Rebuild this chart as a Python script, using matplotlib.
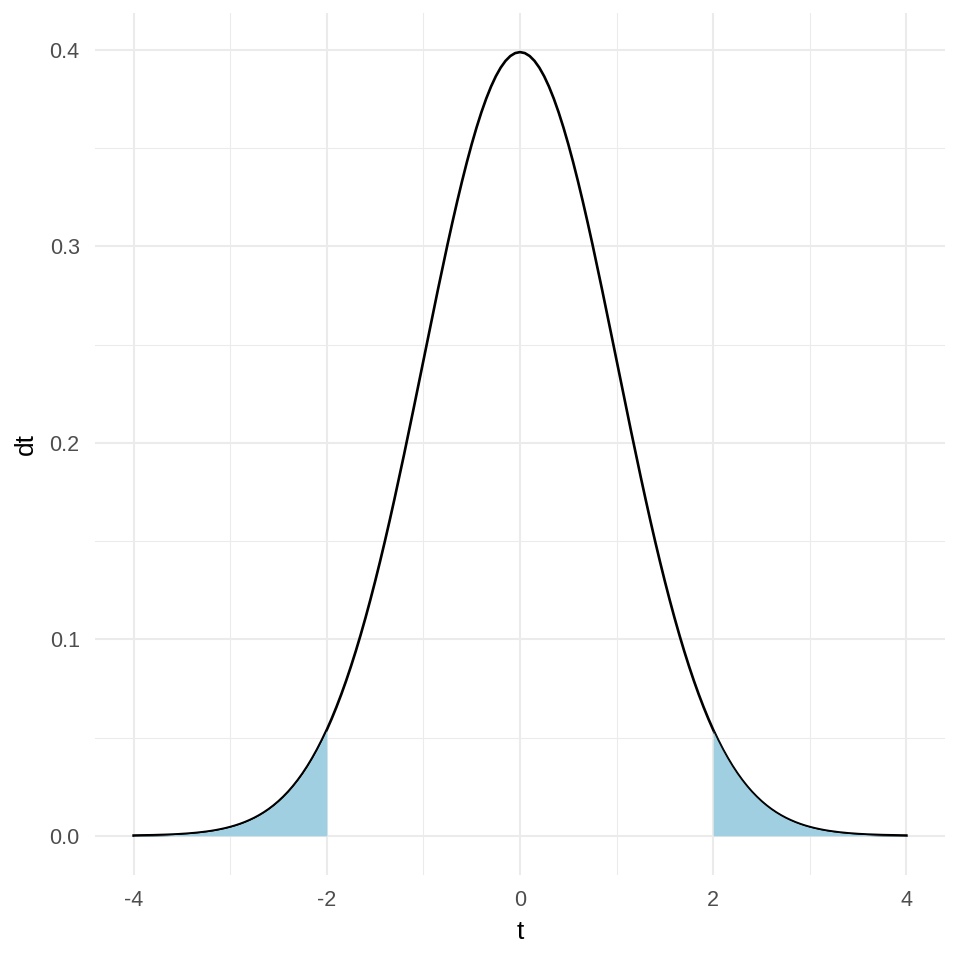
import matplotlib.pyplot as plt
import numpy as np

# density, right half (t >= 0, step 0.05); the curve is symmetric
t_half = [0.00, 0.05, 0.10, 0.15, 0.20, 0.25, 0.30, 0.35, 0.40, 0.45,
          0.50, 0.55, 0.60, 0.65, 0.70, 0.75, 0.80, 0.85, 0.90, 0.95,
          1.00, 1.05, 1.10, 1.15, 1.20, 1.25, 1.30, 1.35, 1.40, 1.45,
          1.50, 1.55, 1.60, 1.65, 1.70, 1.75, 1.80, 1.85, 1.90, 1.95,
          2.00, 2.05, 2.10, 2.15, 2.20, 2.25, 2.30, 2.35, 2.40, 2.45,
          2.50, 2.55, 2.60, 2.65, 2.70, 2.75, 2.80, 2.85, 2.90, 2.95,
          3.00, 3.05, 3.10, 3.15, 3.20, 3.25, 3.30, 3.35, 3.40, 3.45,
          3.50, 3.55, 3.60, 3.65, 3.70, 3.75, 3.80, 3.85, 3.90, 3.95, 4.00]
dt_half = [0.39894, 0.39844, 0.39695, 0.39448, 0.39104, 0.38667, 0.38139, 0.37524, 0.36827, 0.36053,
           0.35207, 0.34294, 0.33322, 0.32297, 0.31225, 0.30114, 0.28969, 0.27798, 0.26609, 0.25406,
           0.24197, 0.22988, 0.21785, 0.20594, 0.19419, 0.18265, 0.17137, 0.16038, 0.14973, 0.13943,
           0.12952, 0.12001, 0.11092, 0.10226, 0.09405, 0.08628, 0.07895, 0.07206, 0.06562, 0.05959,
           0.05399, 0.04879, 0.04398, 0.03955, 0.03547, 0.03174, 0.02833, 0.02522, 0.02239, 0.01984,
           0.01753, 0.01545, 0.01358, 0.01191, 0.01042, 0.00909, 0.00792, 0.00687, 0.00595, 0.00514,
           0.00443, 0.00381, 0.00327, 0.00279, 0.00238, 0.00203, 0.00172, 0.00146, 0.00123, 0.00104,
           0.00087, 0.00073, 0.00061, 0.00051, 0.00042, 0.00035, 0.00029, 0.00024, 0.00020, 0.00016, 0.00013]
cutoff = 2.0
x_ticks = [-4, -2, 0, 2, 4]
y_ticks = [0.0, 0.1, 0.2, 0.3, 0.4]

t = np.concatenate([-np.array(t_half[:0:-1]), t_half])
dt = np.concatenate([dt_half[:0:-1], dt_half])

plt.rcParams['font.family'] = ['Liberation Sans', 'DejaVu Sans']
fig = plt.figure(figsize=(9.6, 9.6), dpi=100)
ax = fig.add_axes([95 / 960, 1 - 875 / 960, 850 / 960, 862 / 960])

grid = '#EBEBEB'
for v in [-3, -1, 1, 3]:
    ax.axvline(v, color=grid, lw=0.75, zorder=0)
for v in [0.05, 0.15, 0.25, 0.35]:
    ax.axhline(v, color=grid, lw=0.75, zorder=0)
for v in x_ticks:
    ax.axvline(v, color=grid, lw=1.5, zorder=0)
for v in y_ticks:
    ax.axhline(v, color=grid, lw=1.5, zorder=0)

ax.plot(t, dt, color='black', lw=1.9, zorder=2)

fill = '#9FCFE0'
left = t <= -cutoff
right = t >= cutoff
for m in [left, right]:
    ax.fill_between(t[m], 0, dt[m], color=fill, lw=0, zorder=3)
    ax.plot(t[m], dt[m], color='black', lw=0.8, zorder=4)

ax.set_xlim(-4.4, 4.4)
ax.set_ylim(-0.019945, 0.418845)
ax.set_xticks(x_ticks)
ax.set_xticklabels([str(v) for v in x_ticks])
ax.set_yticks(y_ticks)
ax.set_yticklabels(['%.1f' % v for v in y_ticks])
ax.tick_params(length=0, labelsize=15.5, labelcolor='#4D4D4D', pad=11)
for s in ax.spines.values():
    s.set_visible(False)
ax.set_xlabel('t', fontsize=19, labelpad=6)
ax.set_ylabel('dt', fontsize=19, labelpad=8)

plt.savefig('out.png', dpi=100)
